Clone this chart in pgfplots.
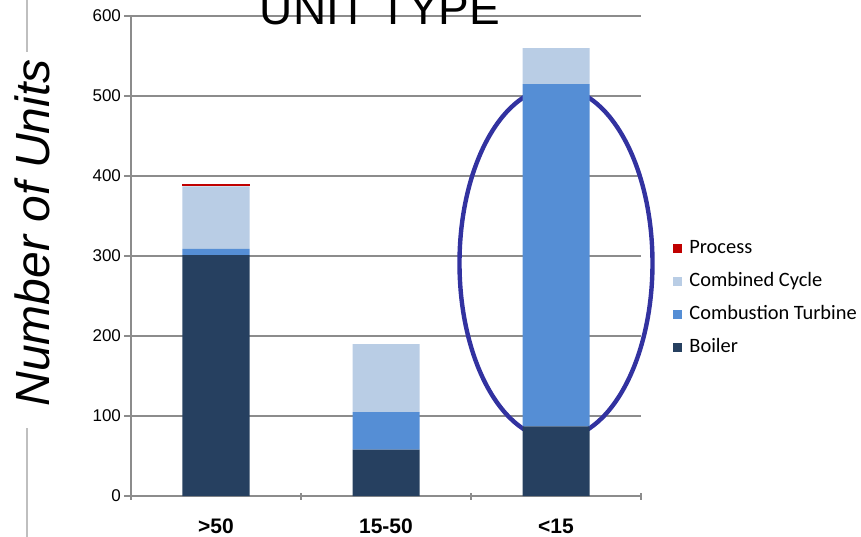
\documentclass[border=0pt]{standalone}
\usepackage{pgfplots}
\pgfplotsset{compat=1.18}
\usepackage{fontspec}
\setmainfont{Liberation Sans}
\newfontfamily\carlito{Carlito}
\definecolor{boiler}{RGB}{38,64,96}
\definecolor{ct}{RGB}{85,142,213}
\definecolor{cc}{RGB}{185,205,229}
\definecolor{proc}{RGB}{192,0,0}
\definecolor{ell}{RGB}{50,50,160}
\definecolor{gridc}{RGB}{140,140,140}
\begin{document}
\begin{tikzpicture}
\begin{axis}[
  at={(0,0)}, anchor=south west,
  scale only axis, width=255pt, height=240pt,
  ybar stacked, bar width=33.5pt,
  xmin=-0.5, xmax=2.5, ymin=0, ymax=600,
  ytick={0,100,200,300,400,500,600},
  xtick={0,1,2}, xticklabels={{>50},{15-50},{<15}},
  minor xtick={-0.5,0.5,1.5,2.5},
  major x tick style={draw=none},
  minor x tick style={gridc, line width=0.6pt},
  minor tick length=3.5pt,
  major tick length=7pt,
  xtick align=outside,
  ytick align=center,
  y tick style={gridc, line width=0.6pt},
  axis x line=bottom, axis y line=left,
  axis line style={-, gridc, line width=0.6pt},
  ymajorgrids, grid style={gridc, line width=0.6pt},
  /pgf/number format/assume math mode=true,
  yticklabel style={font=\fontsize{8.5}{10}\selectfont, anchor=east, xshift=2pt},
  xticklabel style={font=\fontsize{10.5}{12}\selectfont\bfseries, yshift=-4.5pt},
  ylabel={Number of Units},
  every axis y label/.style={at={(axis description cs:-0.159,0.548)}, anchor=base, rotate=90, font=\itshape\fontsize{24}{28}\selectfont},
  clip=false,
  reverse legend,
  legend cell align=left,
  legend image code/.code={\fill[#1] (0pt,-2.25pt) rectangle (4.5pt,2.25pt);},
  legend style={at={(axis description cs:1,0.412)}, anchor=west, xshift=16pt, draw=none, fill=none, inner xsep=0pt,
    font=\carlito\fontsize{10.2}{12}\selectfont, row sep=5.5pt, column sep=2.5pt,
    nodes={inner sep=1pt, text height=7pt, text depth=2pt}},
]
\addplot[fill=boiler, draw=none] coordinates {(0,301) (1,58) (2,87)};
\addlegendentry{Boiler}
\addplot[fill=ct, draw=none] coordinates {(0,8) (1,47) (2,428)};
\addlegendentry{Combustion Turbine}
\addplot[fill=cc, draw=none] coordinates {(0,78) (1,85) (2,45)};
\addlegendentry{Combined Cycle}
\addplot[fill=proc, draw=none] coordinates {(0,2.5) (1,0) (2,0)};
\addlegendentry{Process}
\draw[ell, line width=2.2pt] (axis cs:2,291) ellipse [x radius=48.25pt, y radius=88pt];
\end{axis}
\node[anchor=base, font=\fontsize{23}{27}\selectfont] at (124.5pt,235.5pt) {UNIT TYPE};
\draw[gray!50, line width=0.6pt] (-52pt,260pt) -- (-52pt,222pt);
\draw[gray!50, line width=0.6pt] (-52pt,34pt) -- (-52pt,-25pt);
\pgfresetboundingbox
\useasboundingbox (-65.5pt,-20pt) rectangle (365pt,248pt);
\end{tikzpicture}
\end{document}
